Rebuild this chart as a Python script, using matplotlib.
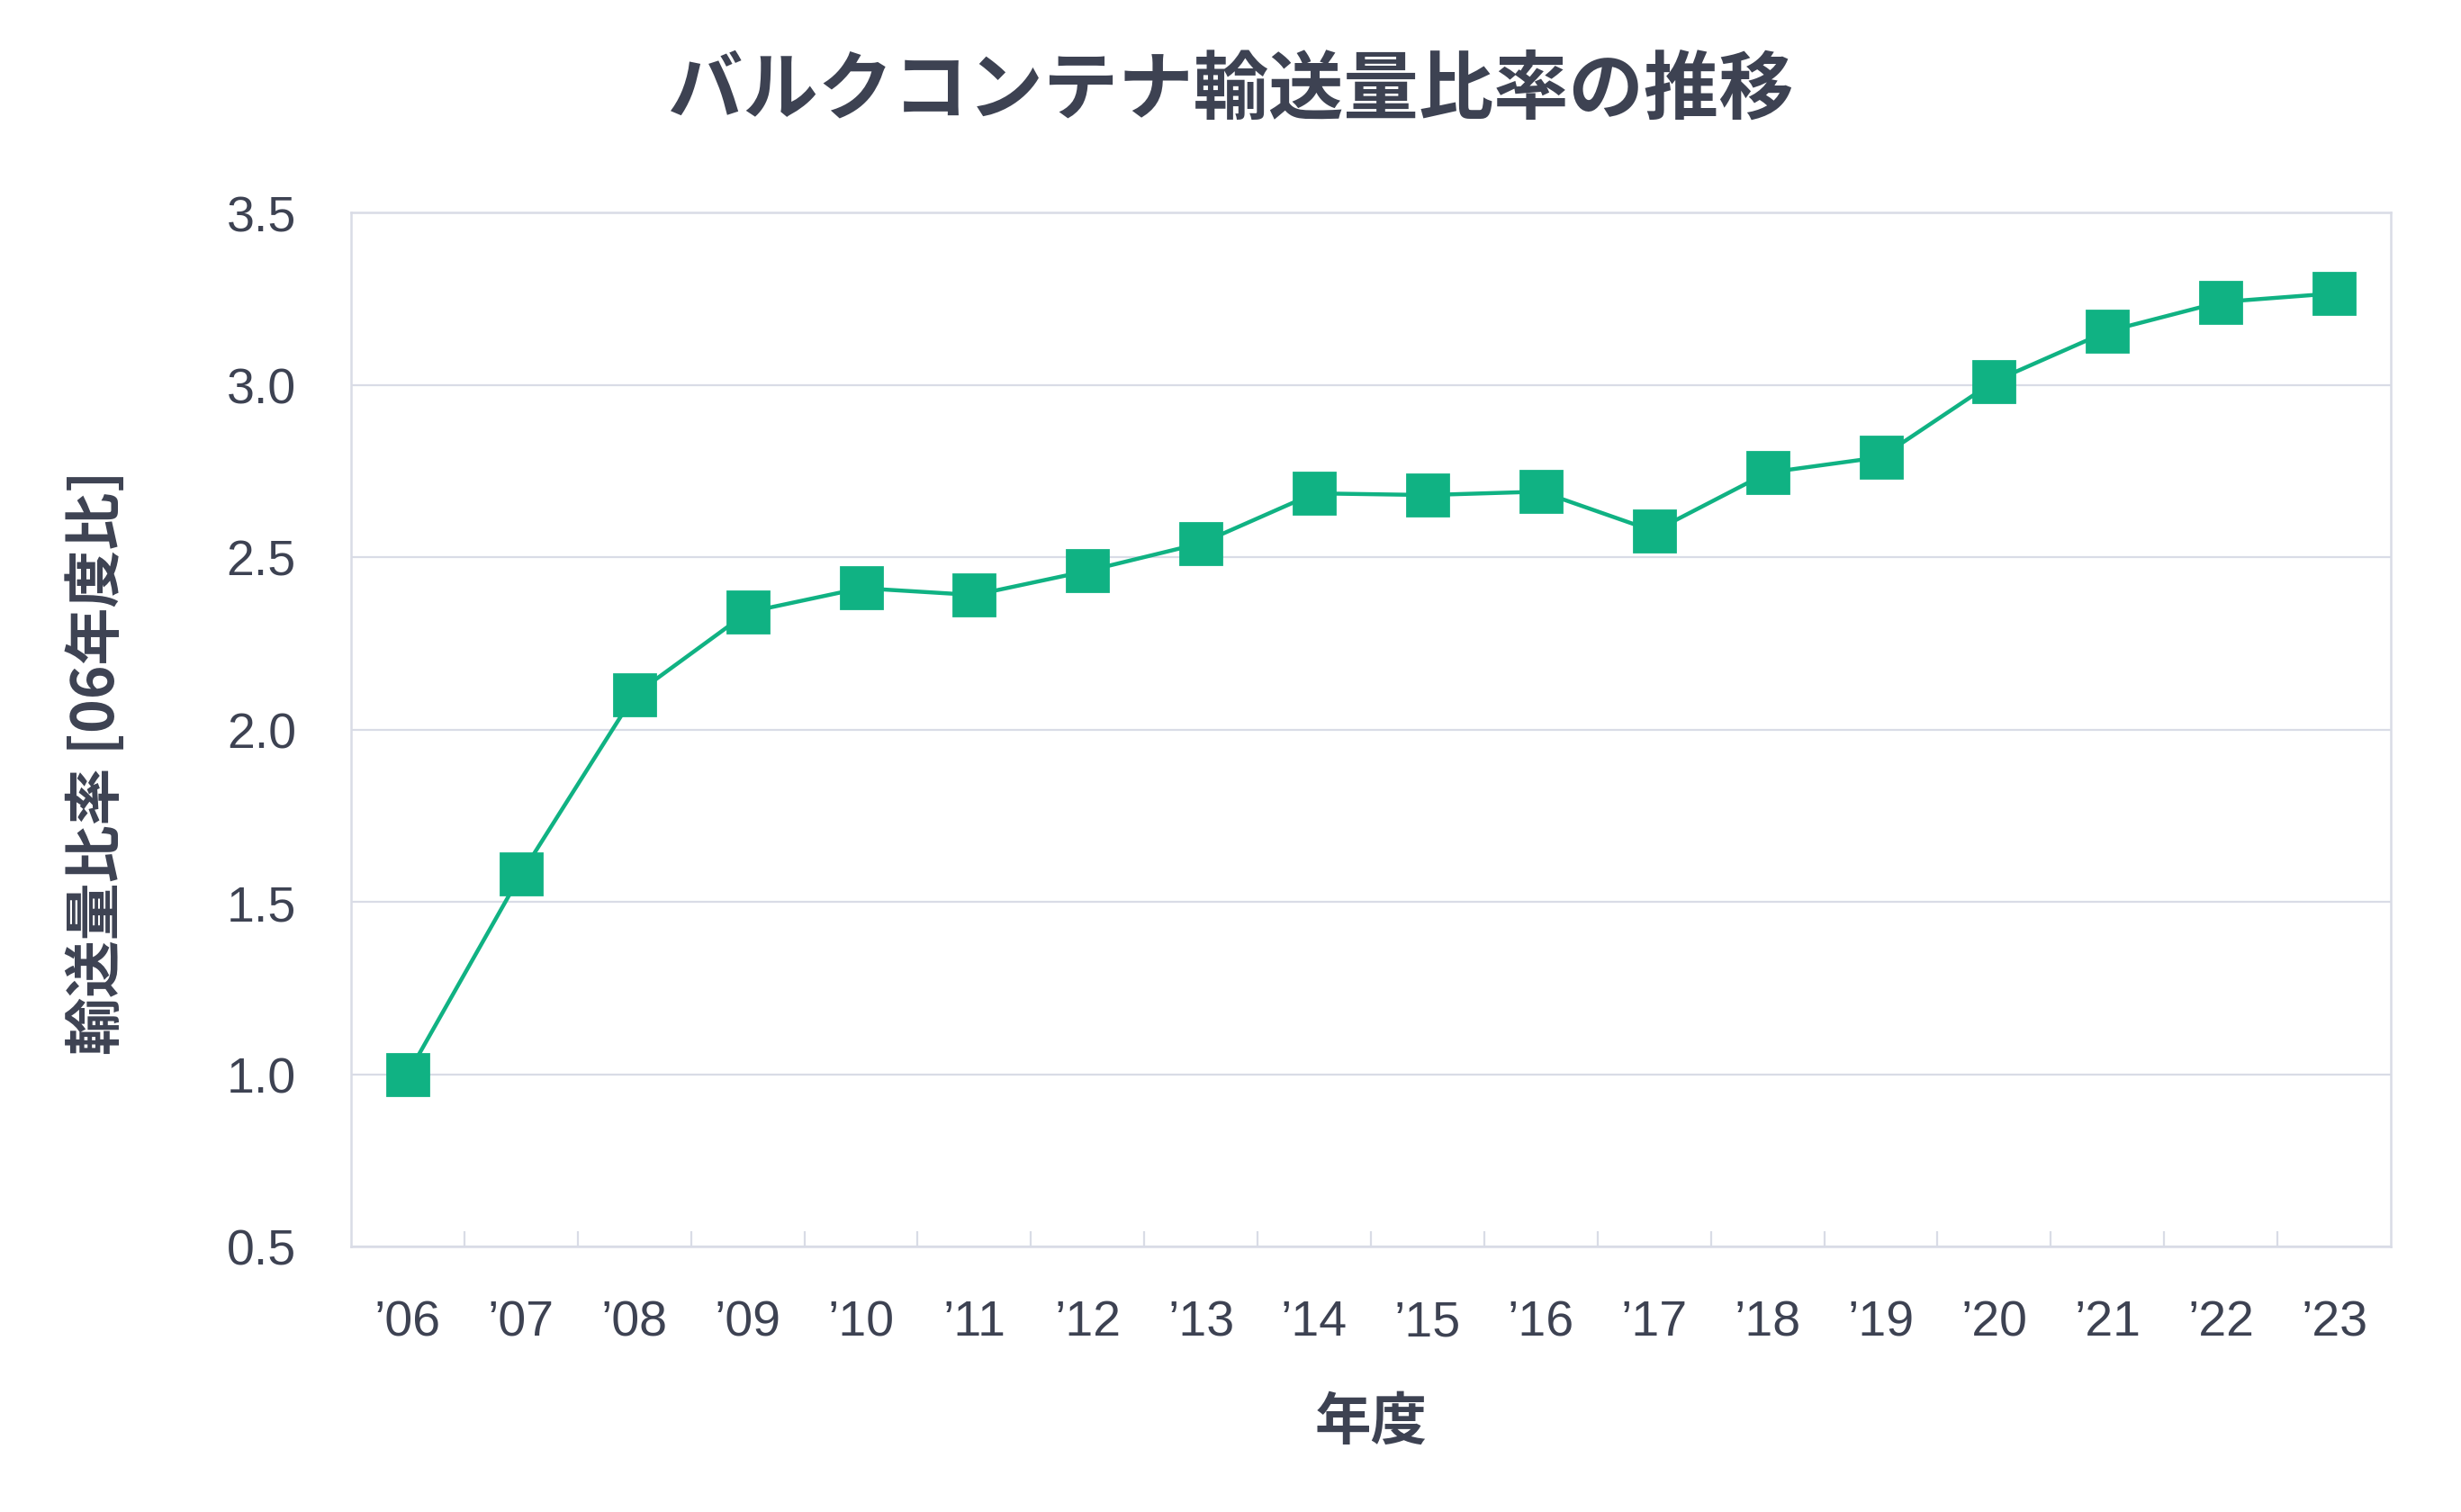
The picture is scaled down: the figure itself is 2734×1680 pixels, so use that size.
import matplotlib
matplotlib.use("Agg")
import matplotlib.pyplot as plt
import numpy as np

years = ["’06", "’07", "’08", "’09", "’10", "’11", "’12", "’13", "’14",
         "’15", "’16", "’17", "’18", "’19", "’20", "’21", "’22", "’23"]
ratio = [1.00, 1.58, 2.10, 2.34, 2.41, 2.39, 2.46, 2.54, 2.685,
         2.68, 2.69, 2.575, 2.745, 2.79, 3.01, 3.155, 3.24, 3.265]
yticks = [0.5, 1.0, 1.5, 2.0, 2.5, 3.0, 3.5]

title = "バルクコンテナ輸送量比率の推移"
xlabel = "年度"
ylabel = "輸送量比率 [06年度比]"

TEXT = "#3d4252"
GRID = "#d9dce6"
GREEN = "#10b283"
CJK = ["Noto Sans CJK JP", "DejaVu Sans"]
LAT = ["Liberation Sans", "DejaVu Sans"]

DPI = 200
fig = plt.figure(figsize=(2734 / DPI, 1681 / DPI), dpi=DPI)
ax = fig.add_axes([390 / 2734, 1 - 1386 / 1681, (2656 - 390) / 2734, (1386 - 237) / 1681])

x = np.arange(len(years))
ax.plot(x, ratio, color=GREEN, lw=1.6, marker="s", ms=16.5, mec=GREEN, mfc=GREEN, zorder=3)

ax.set_xlim(-0.5, len(years) - 0.5)
ax.set_ylim(0.5, 3.5)
ax.set_yticks(yticks)
ax.set_yticklabels([f"{v:.1f}" for v in yticks], family=LAT, fontsize=20, color=TEXT)
ax.set_xticks(x)
ax.set_xticklabels(years, family=LAT, fontsize=20, color=TEXT)
ax.set_xticks(np.arange(0.5, len(years) - 1, 1.0), minor=True)
ax.tick_params(axis="x", which="major", length=0, pad=21)
ax.tick_params(axis="x", which="minor", length=6, width=0.8, color=GRID, direction="in")
ax.tick_params(axis="y", length=0, pad=22)
ax.grid(axis="y", color=GRID, lw=0.8)
ax.set_axisbelow(True)
for s in ax.spines.values():
    s.set_color(GRID)
    s.set_linewidth(0.9)

fig.text(0.5, 1 - 101 / 1681, title, family=CJK, fontsize=30, fontweight="bold",
         color=TEXT, ha="center", va="center")
fig.text((390 + 2656) / 2 / 2734, 1 - 1580 / 1681, xlabel, family=CJK, fontsize=22.5,
         fontweight="bold", color=TEXT, ha="center", va="center")
fig.text(108 / 2734, 1 - 847 / 1681, ylabel, family=CJK, fontsize=23,
         fontweight="bold", color=TEXT, ha="center", va="center", rotation=90)

fig.savefig("out.png", dpi=DPI, facecolor="white")
